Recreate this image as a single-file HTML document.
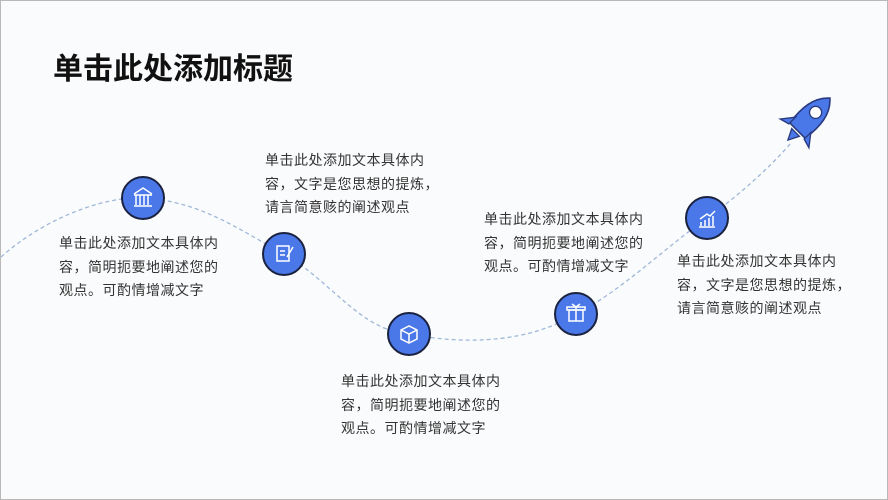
<!DOCTYPE html>
<html><head><meta charset="utf-8"><style>
body{margin:0;width:888px;height:500px;overflow:hidden;background:#fafbfc;font-family:"Liberation Sans","Noto Sans CJK SC",sans-serif;}
.wrap{position:relative;width:886px;height:498px;border:1px solid #b8b8b8;background:#fafbfc}
.t{position:absolute;left:52px;top:43px;font-size:30px;font-weight:bold;color:#111;letter-spacing:0px}
.p{position:absolute;font-size:14px;line-height:23.5px;color:#333;white-space:nowrap;letter-spacing:0.5px}
</style></head><body><div class="wrap">
<svg width="886" height="498" style="position:absolute;left:0;top:0">
<path d="M0,256 C40,220 100,195 142,197 C200,200 240,230 283,253 C330,280 360,330 408,333 C470,345 530,340 575,313 C620,290 660,250 706,217 C740,193 770,165 790,142" fill="none" stroke="#9fb8d8" stroke-width="1.3" stroke-dasharray="4,3"/>
<g stroke="#1a2240" stroke-width="2" fill="#4a78e8">
<circle cx="142" cy="197" r="21"/><circle cx="283" cy="253" r="21"/><circle cx="408" cy="333" r="21"/><circle cx="575" cy="313" r="21"/><circle cx="706" cy="217" r="21"/>
</g>
<g fill="none" stroke="#fff" stroke-width="1.5">
<path d="M133,194 h18 M135,194 v10 M139,194 v10 M143,194 v10 M147,194 v10 M133,205 h18 M133,193 l9,-6 l9,6"/>
<rect x="276" y="245" width="12" height="15"/><path d="M279,250 h5 M279,254 h5 M286,256 l6,-10"/>
<path d="M400,329 l8,-4 l8,4 v9 l-8,4 l-8,-4 z M400,329 l8,4 l8,-4 M408,333 v9"/>
<rect x="568" y="309" width="14" height="11"/><path d="M566,306 h18 v3 h-18z M575,306 v14 M571,303 l4,3 l4,-3"/>
<path d="M698,226 h16 M700,225 v-4 M704,225 v-6 M708,225 v-8 M712,225 v-10 M699,218 l7,-5 l3,2 l5,-5"/>
</g>
<g transform="translate(806,120) rotate(45) scale(1.35)">
<path d="M0,-24 C9,-16 10,-4 8,10 h-16 C-10,-4 -9,-16 0,-24z" fill="#4a78e8" stroke="#2a3a80" stroke-width="1.2"/>
<circle cx="0" cy="-9" r="4.5" fill="#fff" stroke="#2a3a80"/>
<path d="M-8,4 l-7,9 l7,-2z M8,4 l7,9 l-7,-2z M-4,12 l4,8 l4,-8z" fill="#4a78e8" stroke="#2a3a80"/>
</g>
</svg>
<div class="t">单击此处添加标题</div>
<div class="p" style="left:58px;top:231px">单击此处添加文本具体内<br>容，简明扼要地阐述您的<br>观点。可酌情增减文字</div>
<div class="p" style="left:264px;top:148px">单击此处添加文本具体内<br>容，文字是您思想的提炼，<br>请言简意赅的阐述观点</div>
<div class="p" style="left:340px;top:369px">单击此处添加文本具体内<br>容，简明扼要地阐述您的<br>观点。可酌情增减文字</div>
<div class="p" style="left:483px;top:207px">单击此处添加文本具体内<br>容，简明扼要地阐述您的<br>观点。可酌情增减文字</div>
<div class="p" style="left:676px;top:249px">单击此处添加文本具体内<br>容，文字是您思想的提炼，<br>请言简意赅的阐述观点</div>
</div></body></html>
